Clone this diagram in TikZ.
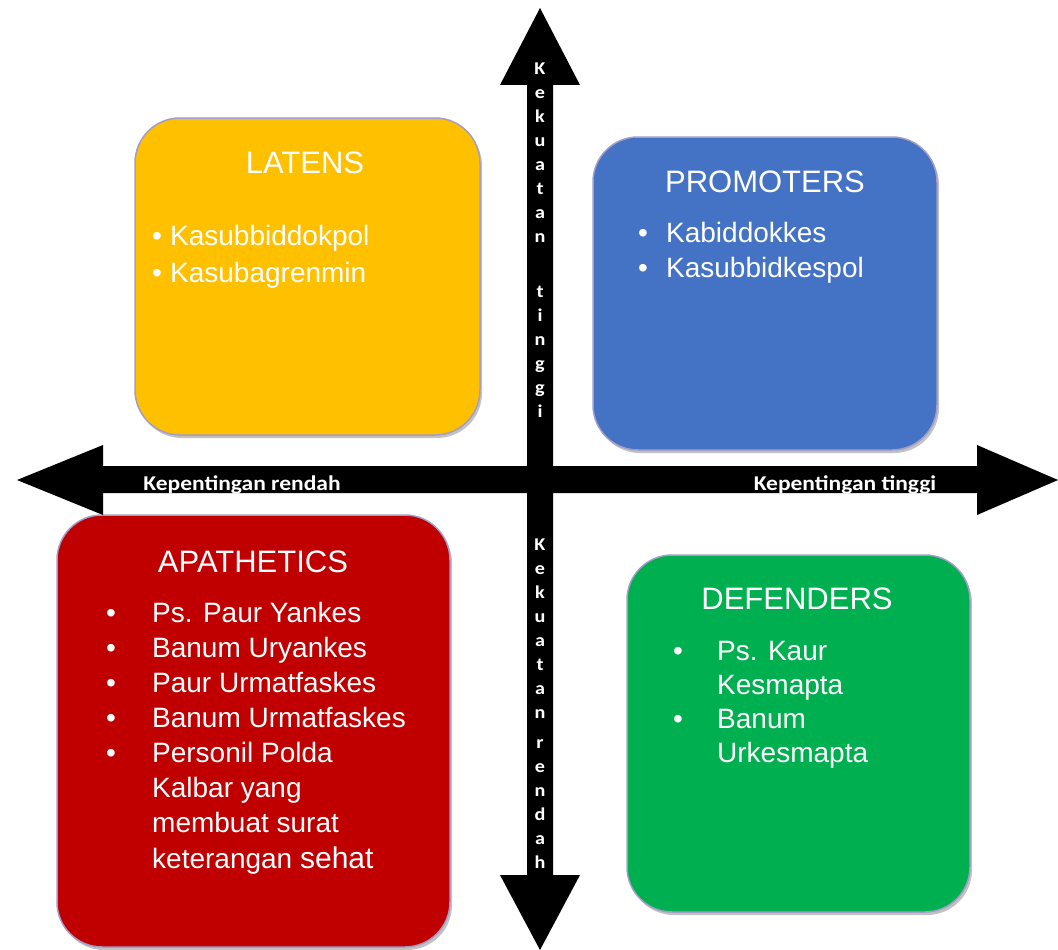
\documentclass[tikz,border=0pt]{standalone}
\usepackage{fontspec}
\setmainfont{Liberation Sans}
\newfontfamily\axisfont{Carlito}[FakeStretch=1.12]
\usetikzlibrary{shadows}
\definecolor{LatensGold}{HTML}{FFC000}
\definecolor{PromoBlue}{HTML}{4472C4}
\definecolor{ApathRed}{HTML}{C00000}
\definecolor{DefGreen}{HTML}{00B050}
\definecolor{QuadEdge}{HTML}{A29DC9}
\tikzset{
  quad/.style={draw=QuadEdge,line width=1.5pt,rounded corners=45pt,
    drop shadow={shadow xshift=2pt,shadow yshift=-3pt,fill=black!40,opacity=.6}},
  quadtitle/.style={text=white,anchor=base,inner sep=0pt,font=\fontsize{31}{37}\selectfont},
  quadlist/.style={text=white,anchor=base west,inner sep=0pt,font=\fontsize{28}{35}\selectfont},
  axisarrow/.style={fill=black},
  axislabel/.style={text=white,anchor=base,inner sep=0pt,font=\axisfont\bfseries\fontsize{21}{24}\selectfont},
  axisletters/.style={text=white,anchor=north,inner sep=0pt,align=center,font=\axisfont\bfseries\fontsize{18}{24}\selectfont}
}

\begin{document}
\begin{tikzpicture}[x=1pt,y=-1pt]
  \useasboundingbox (0,0) rectangle (1058,950);

  \node[quad,fill=LatensGold,minimum width=345,minimum height=317] (latens) at (307.5,276.5) {};
  \node[quad,fill=PromoBlue,minimum width=344,minimum height=313] (promoters) at (765,293.5) {};
  \node[quad,fill=ApathRed,minimum width=393,minimum height=432] (apathetics) at (253.5,731) {};
  \node[quad,fill=DefGreen,minimum width=343,minimum height=357] (defenders) at (798.5,733.5) {};

  \node[quadtitle] (latenstitle) at (305,173) {LATENS};
  \node[quadlist] (latenslist) at (152,245) {\begin{tabular}[t]{@{}p{18pt}@{}l@{}}
    \textbullet & Kasubbiddokpol\\[2pt]
    \textbullet & Kasubagrenmin
  \end{tabular}};

  \node[quadtitle] (promotitle) at (765,192) {PROMOTERS};
  \node[quadlist] (promolist) at (638,242) {\begin{tabular}[t]{@{}p{28pt}@{}l@{}}
    \textbullet & Kabiddokkes\\
    \textbullet & Kasubbidkespol
  \end{tabular}};

  \node[quadtitle] (apathtitle) at (253,572) {APATHETICS};
  \node[quadlist] (apathlist) at (106,622) {\begin{tabular}[t]{@{}p{46pt}@{}l@{}}
    \textbullet & Ps. Paur Yankes\\
    \textbullet & Banum Uryankes\\
    \textbullet & Paur Urmatfaskes\\
    \textbullet & Banum Urmatfaskes\\
    \textbullet & Personil Polda\\
                & Kalbar yang\\
                & membuat surat\\[1pt]
                & keterangan {\fontsize{30}{35}\selectfont sehat}
  \end{tabular}};

  \node[quadtitle] (deftitle) at (797,609) {DEFENDERS};
  \node[quadlist] (deflist) at (673,660) {\begin{tabular}[t]{@{}p{44pt}@{}l@{}}
    \textbullet & Ps. Kaur\\[-1pt]
                & Kesmapta\\[-1pt]
    \textbullet & Banum\\[-1pt]
                & Urkesmapta
  \end{tabular}};

  \fill[axisarrow] (17,480) -- (103,445) -- (103,466) -- (977,466) -- (977,445) -- (1058,480)
    -- (977,515) -- (977,493) -- (103,493) -- (103,515) -- cycle;
  \fill[axisarrow] (540,8) -- (580,85) -- (553,85) -- (553,875) -- (580,875) -- (540,950)
    -- (500,875) -- (527,875) -- (527,85) -- (500,85) -- cycle;

  \node[axislabel] (lowinterest) at (242,490) {Kepentingan rendah};
  \node[axislabel] (highinterest) at (845,490) {Kepentingan tinggi};
  \node[axisletters] (highpower) at (540,63) {K\\e\\k\\u\\a\\t\\a\\n\\[31pt]t\\i\\n\\g\\g\\i};
  \node[axisletters] (lowpower) at (540,539) {K\\e\\k\\u\\a\\t\\a\\n\\[6pt]r\\e\\n\\d\\a\\h};
\end{tikzpicture}
\end{document}
